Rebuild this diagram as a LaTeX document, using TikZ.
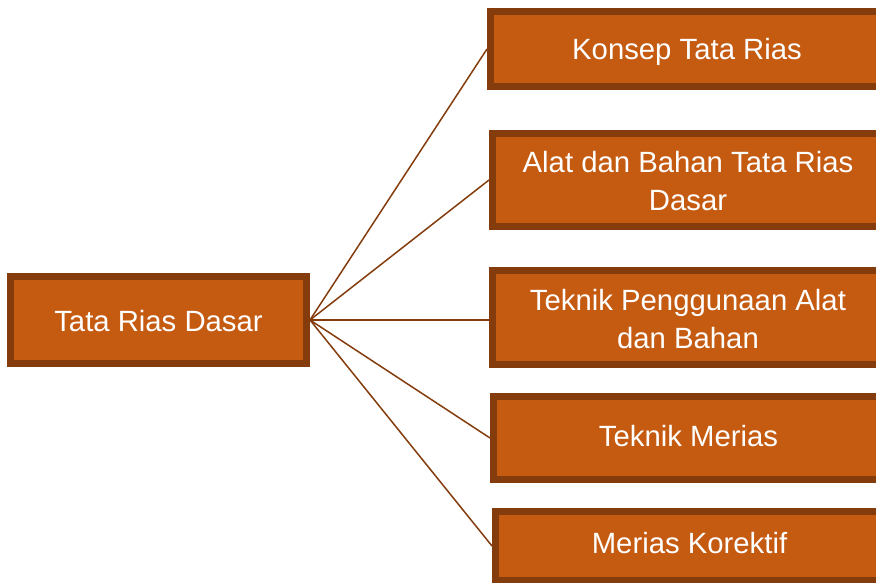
\documentclass[tikz,border=0pt]{standalone}
\usepackage{fontspec}
\setmainfont{Liberation Sans}
\usetikzlibrary{backgrounds}
\definecolor{boxfill}{HTML}{C55A11}
\definecolor{boxline}{HTML}{843C0C}
\tikzset{
  topicbox/.style={draw=boxline, fill=boxfill, line width=7pt, text=white,
    align=center, inner sep=0pt, text depth=0pt,
    font=\fontsize{29.3}{38}\selectfont},
  link/.style={draw=boxline, line width=1.5pt}
}
\begin{document}
\begin{tikzpicture}[x=1pt,y=-1pt]
\useasboundingbox (0,0) rectangle (876,583);
\clip (0,0) rectangle (876,583);
\node[topicbox, minimum width=296pt, minimum height=87pt, text height=22.6pt] (L) at (158.5,320) {Tata Rias Dasar};
\node[topicbox, minimum width=393pt, minimum height=75pt, text height=21pt] (B1) at (687,49) {Konsep Tata Rias};
\node[topicbox, minimum width=391pt, minimum height=93pt, text height=61.6pt] (B2) at (688,180) {Alat dan Bahan Tata Rias\\Dasar};
\node[topicbox, minimum width=391pt, minimum height=94pt, text height=62.6pt] (B3) at (688,317.5) {Teknik Penggunaan Alat\\dan Bahan};
\node[topicbox, minimum width=390pt, minimum height=83pt, text height=17pt] (B4) at (688.5,438) {Teknik Merias};
\node[topicbox, minimum width=388pt, minimum height=69pt, text height=14.6pt] (B5) at (689.5,546) {Merias Korektif};
\begin{scope}[on background layer]
\foreach \b in {B1,B2,B4,B5} \draw[link] (L.east) -- (\b.west);
\draw[link] (L.east) -- (L.east -| B3.west);
\end{scope}
\end{tikzpicture}
\end{document}
